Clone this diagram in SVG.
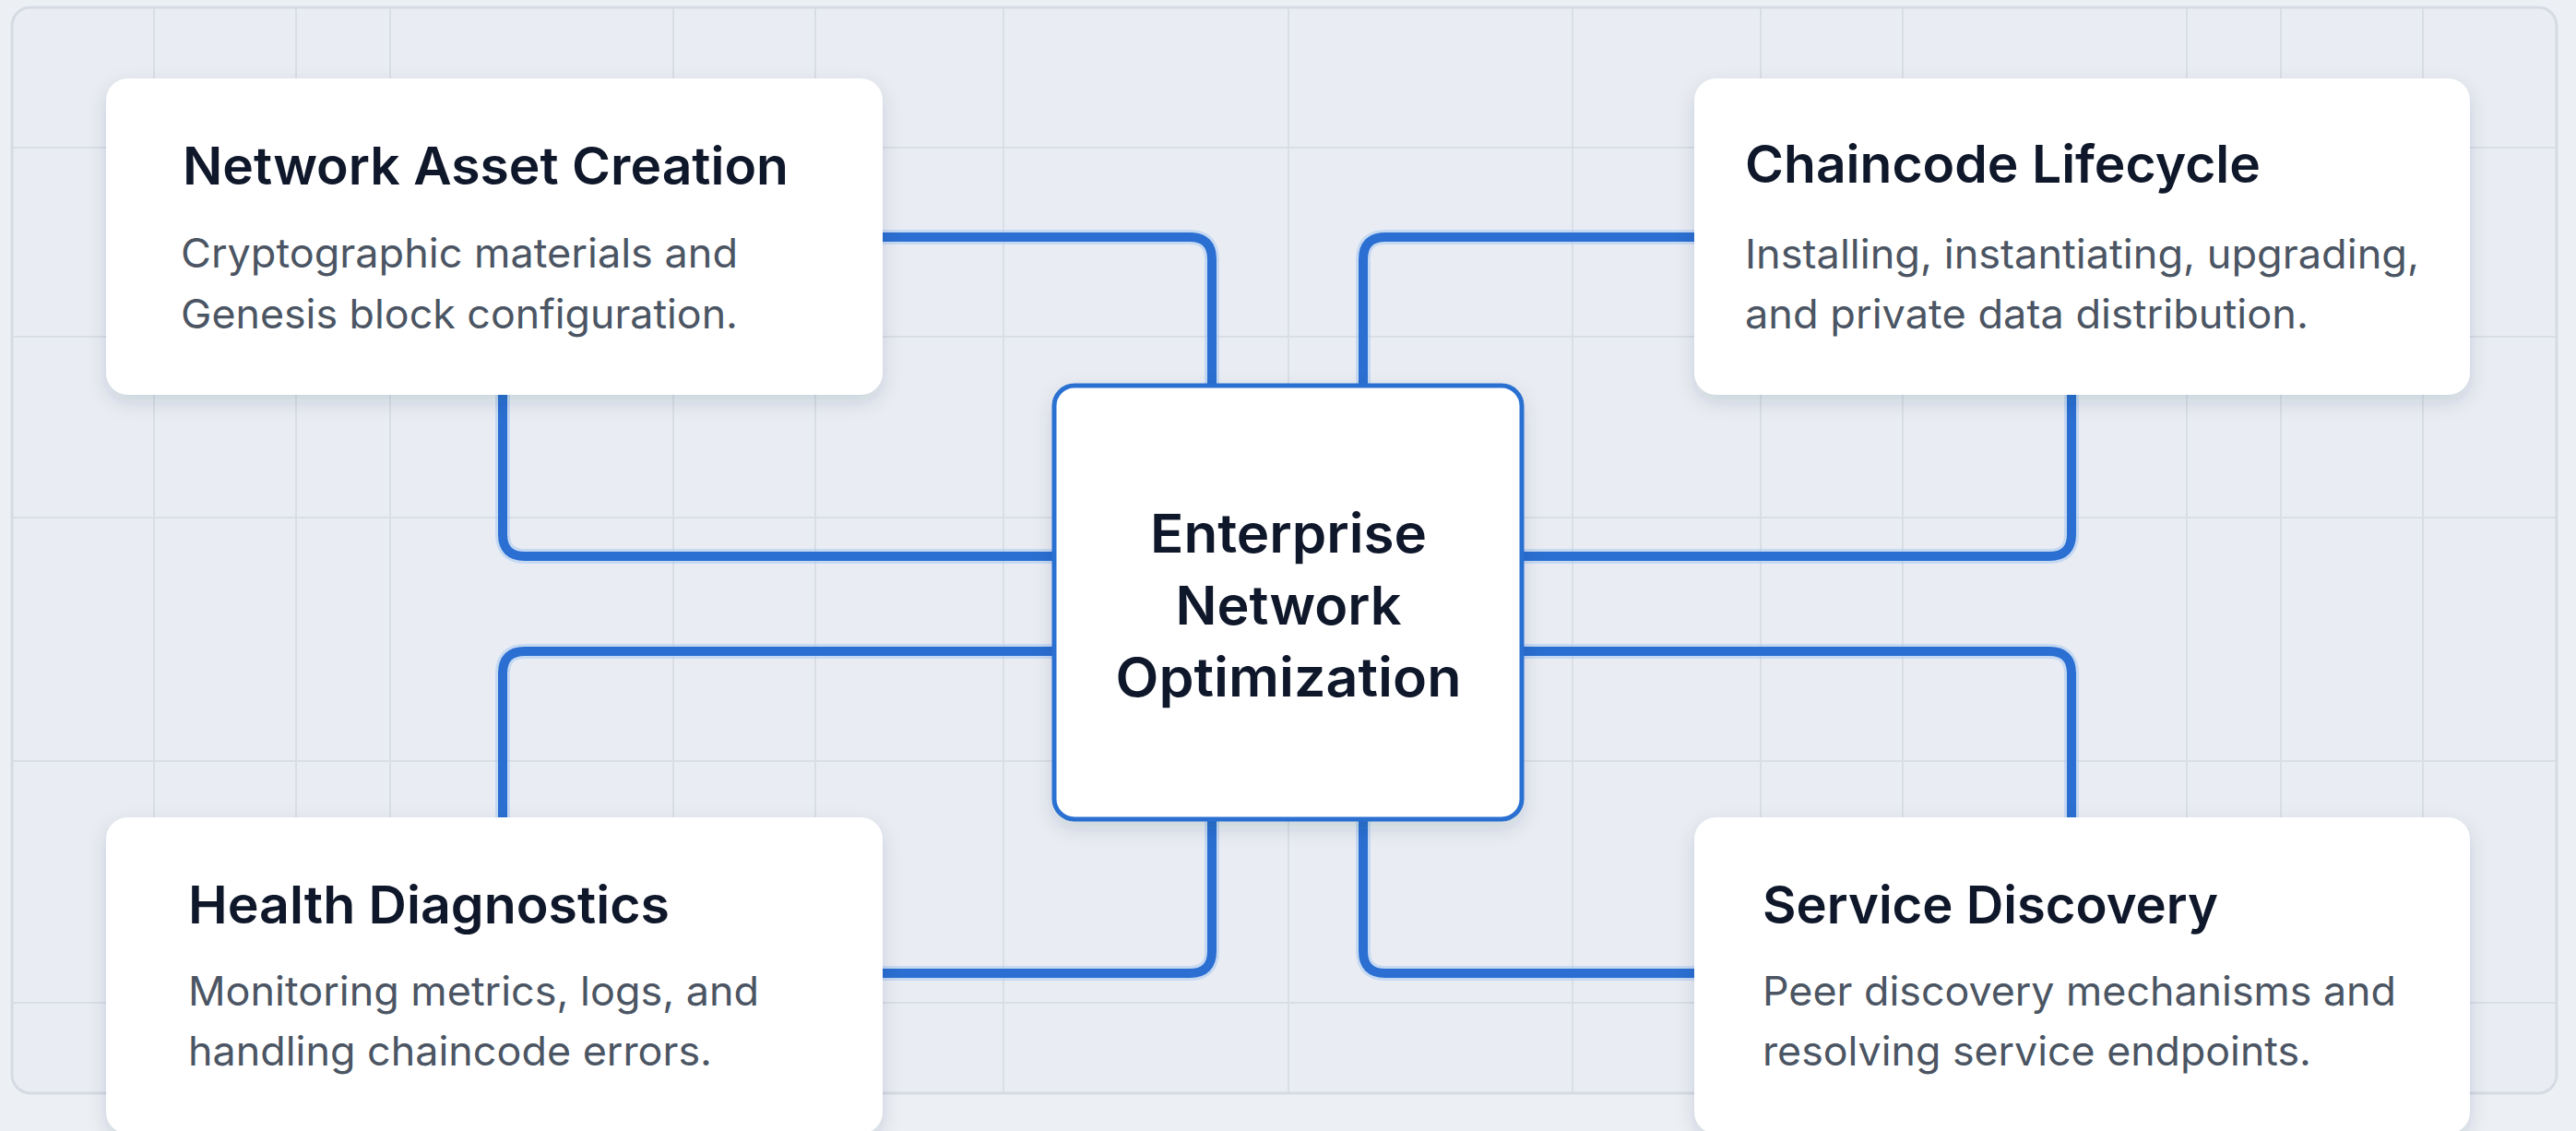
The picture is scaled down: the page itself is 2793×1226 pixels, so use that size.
<svg xmlns="http://www.w3.org/2000/svg" width="2793" height="1226" viewBox="0 0 2793 1226">
  <style>
    .grid { stroke: #d9dee6; stroke-width: 2; fill: none; }
    .frame { fill: none; stroke: #d6dbe3; stroke-width: 3; }
    .card { fill: #ffffff; }
    .title { font-family: Inter, "Liberation Sans", sans-serif; font-weight: 600; font-size: 56px; fill: #0f172a; }
    .desc { font-family: Inter, "Liberation Sans", sans-serif; font-weight: 400; font-size: 44px; fill: #4b5563; }
    .center-text { font-family: Inter, "Liberation Sans", sans-serif; font-weight: 600; font-size: 58px; fill: #0f172a; text-anchor: middle; }
    .halo { fill: none; stroke: #a9c8f2; stroke-width: 16; stroke-opacity: 0.55; stroke-linejoin: round; }
    .wire { fill: none; stroke: #2a6fd1; stroke-width: 10; stroke-linejoin: round; }
  </style>
  <defs>
    <filter id="shadow" x="-10%" y="-10%" width="120%" height="130%">
      <feDropShadow dx="0" dy="8" stdDeviation="10" flood-color="#1e293b" flood-opacity="0.14"/>
    </filter>
  </defs>

  <rect width="2793" height="1226" fill="#eceff4"/>
  <rect x="13" y="8" width="2759" height="1177" rx="20" fill="#e9edf3"/>

  <g id="grid">
    <line class="grid" x1="167" y1="8" x2="167" y2="1185"/>
    <line class="grid" x1="321" y1="8" x2="321" y2="1185"/>
    <line class="grid" x1="423" y1="8" x2="423" y2="1185"/>
    <line class="grid" x1="730" y1="8" x2="730" y2="1185"/>
    <line class="grid" x1="884" y1="8" x2="884" y2="1185"/>
    <line class="grid" x1="1088" y1="8" x2="1088" y2="1185"/>
    <line class="grid" x1="1397" y1="8" x2="1397" y2="1185"/>
    <line class="grid" x1="1705" y1="8" x2="1705" y2="1185"/>
    <line class="grid" x1="1909" y1="8" x2="1909" y2="1185"/>
    <line class="grid" x1="2063" y1="8" x2="2063" y2="1185"/>
    <line class="grid" x1="2371" y1="8" x2="2371" y2="1185"/>
    <line class="grid" x1="2473" y1="8" x2="2473" y2="1185"/>
    <line class="grid" x1="2627" y1="8" x2="2627" y2="1185"/>
    <line class="grid" x1="13" y1="160" x2="2772" y2="160"/>
    <line class="grid" x1="13" y1="365" x2="2772" y2="365"/>
    <line class="grid" x1="13" y1="561" x2="2772" y2="561"/>
    <line class="grid" x1="13" y1="825" x2="2772" y2="825"/>
    <line class="grid" x1="13" y1="1087" x2="2772" y2="1087"/>
    <rect class="frame" x="13" y="8" width="2759" height="1177" rx="20"/>
  </g>

  <g id="connectors">
    <g class="halo">
      <path d="M957,257 H1290 Q1314,257 1314,281 V418"/>
      <path d="M1837,257 H1502 Q1478,257 1478,281 V418"/>
      <path d="M545,428 V579 Q545,603 569,603 H1143"/>
      <path d="M2246,428 V579 Q2246,603 2222,603 H1650"/>
      <path d="M545,886 V730 Q545,706 569,706 H1143"/>
      <path d="M2246,886 V730 Q2246,706 2222,706 H1650"/>
      <path d="M957,1055 H1290 Q1314,1055 1314,1031 V888"/>
      <path d="M1837,1055 H1502 Q1478,1055 1478,1031 V888"/>
    </g>
    <g class="wire">
      <path d="M957,257 H1290 Q1314,257 1314,281 V418"/>
      <path d="M1837,257 H1502 Q1478,257 1478,281 V418"/>
      <path d="M545,428 V579 Q545,603 569,603 H1143"/>
      <path d="M2246,428 V579 Q2246,603 2222,603 H1650"/>
      <path d="M545,886 V730 Q545,706 569,706 H1143"/>
      <path d="M2246,886 V730 Q2246,706 2222,706 H1650"/>
      <path d="M957,1055 H1290 Q1314,1055 1314,1031 V888"/>
      <path d="M1837,1055 H1502 Q1478,1055 1478,1031 V888"/>
    </g>
  </g>

  <g id="node-network-asset-creation">
    <rect class="card" x="115" y="85" width="842" height="343" rx="24" filter="url(#shadow)"/>
    <text class="title" x="198" y="200" textLength="657" lengthAdjust="spacingAndGlyphs">Network Asset Creation</text>
    <text class="desc" x="196" y="290" textLength="604" lengthAdjust="spacingAndGlyphs">Cryptographic materials and</text>
    <text class="desc" x="196" y="356" textLength="604" lengthAdjust="spacingAndGlyphs">Genesis block configuration.</text>
  </g>

  <g id="node-chaincode-lifecycle">
    <rect class="card" x="1837" y="85" width="841" height="343" rx="24" filter="url(#shadow)"/>
    <text class="title" x="1892" y="198" textLength="559" lengthAdjust="spacingAndGlyphs">Chaincode Lifecycle</text>
    <text class="desc" x="1892" y="291" textLength="731" lengthAdjust="spacingAndGlyphs">Installing, instantiating, upgrading,</text>
    <text class="desc" x="1892" y="356" textLength="611" lengthAdjust="spacingAndGlyphs">and private data distribution.</text>
  </g>

  <g id="node-health-diagnostics">
    <rect class="card" x="115" y="886" width="842" height="343" rx="24" filter="url(#shadow)"/>
    <text class="title" x="204" y="1001" textLength="522" lengthAdjust="spacingAndGlyphs">Health Diagnostics</text>
    <text class="desc" x="204" y="1090" textLength="619" lengthAdjust="spacingAndGlyphs">Monitoring metrics, logs, and</text>
    <text class="desc" x="204" y="1155" textLength="568" lengthAdjust="spacingAndGlyphs">handling chaincode errors.</text>
  </g>

  <g id="node-service-discovery">
    <rect class="card" x="1837" y="886" width="841" height="343" rx="24" filter="url(#shadow)"/>
    <text class="title" x="1911" y="1001" textLength="494" lengthAdjust="spacingAndGlyphs">Service Discovery</text>
    <text class="desc" x="1911" y="1090" textLength="687" lengthAdjust="spacingAndGlyphs">Peer discovery mechanisms and</text>
    <text class="desc" x="1911" y="1155" textLength="595" lengthAdjust="spacingAndGlyphs">resolving service endpoints.</text>
  </g>

  <g id="node-enterprise-network-optimization">
    <rect x="1143" y="418" width="507" height="470" rx="22" fill="#ffffff" stroke="#2a6fd1" stroke-width="5" filter="url(#shadow)"/>
    <text class="center-text" x="1397" y="599" textLength="300" lengthAdjust="spacingAndGlyphs">Enterprise</text>
    <text class="center-text" x="1397" y="677" textLength="245" lengthAdjust="spacingAndGlyphs">Network</text>
    <text class="center-text" x="1397" y="755" textLength="375" lengthAdjust="spacingAndGlyphs">Optimization</text>
  </g>
</svg>
